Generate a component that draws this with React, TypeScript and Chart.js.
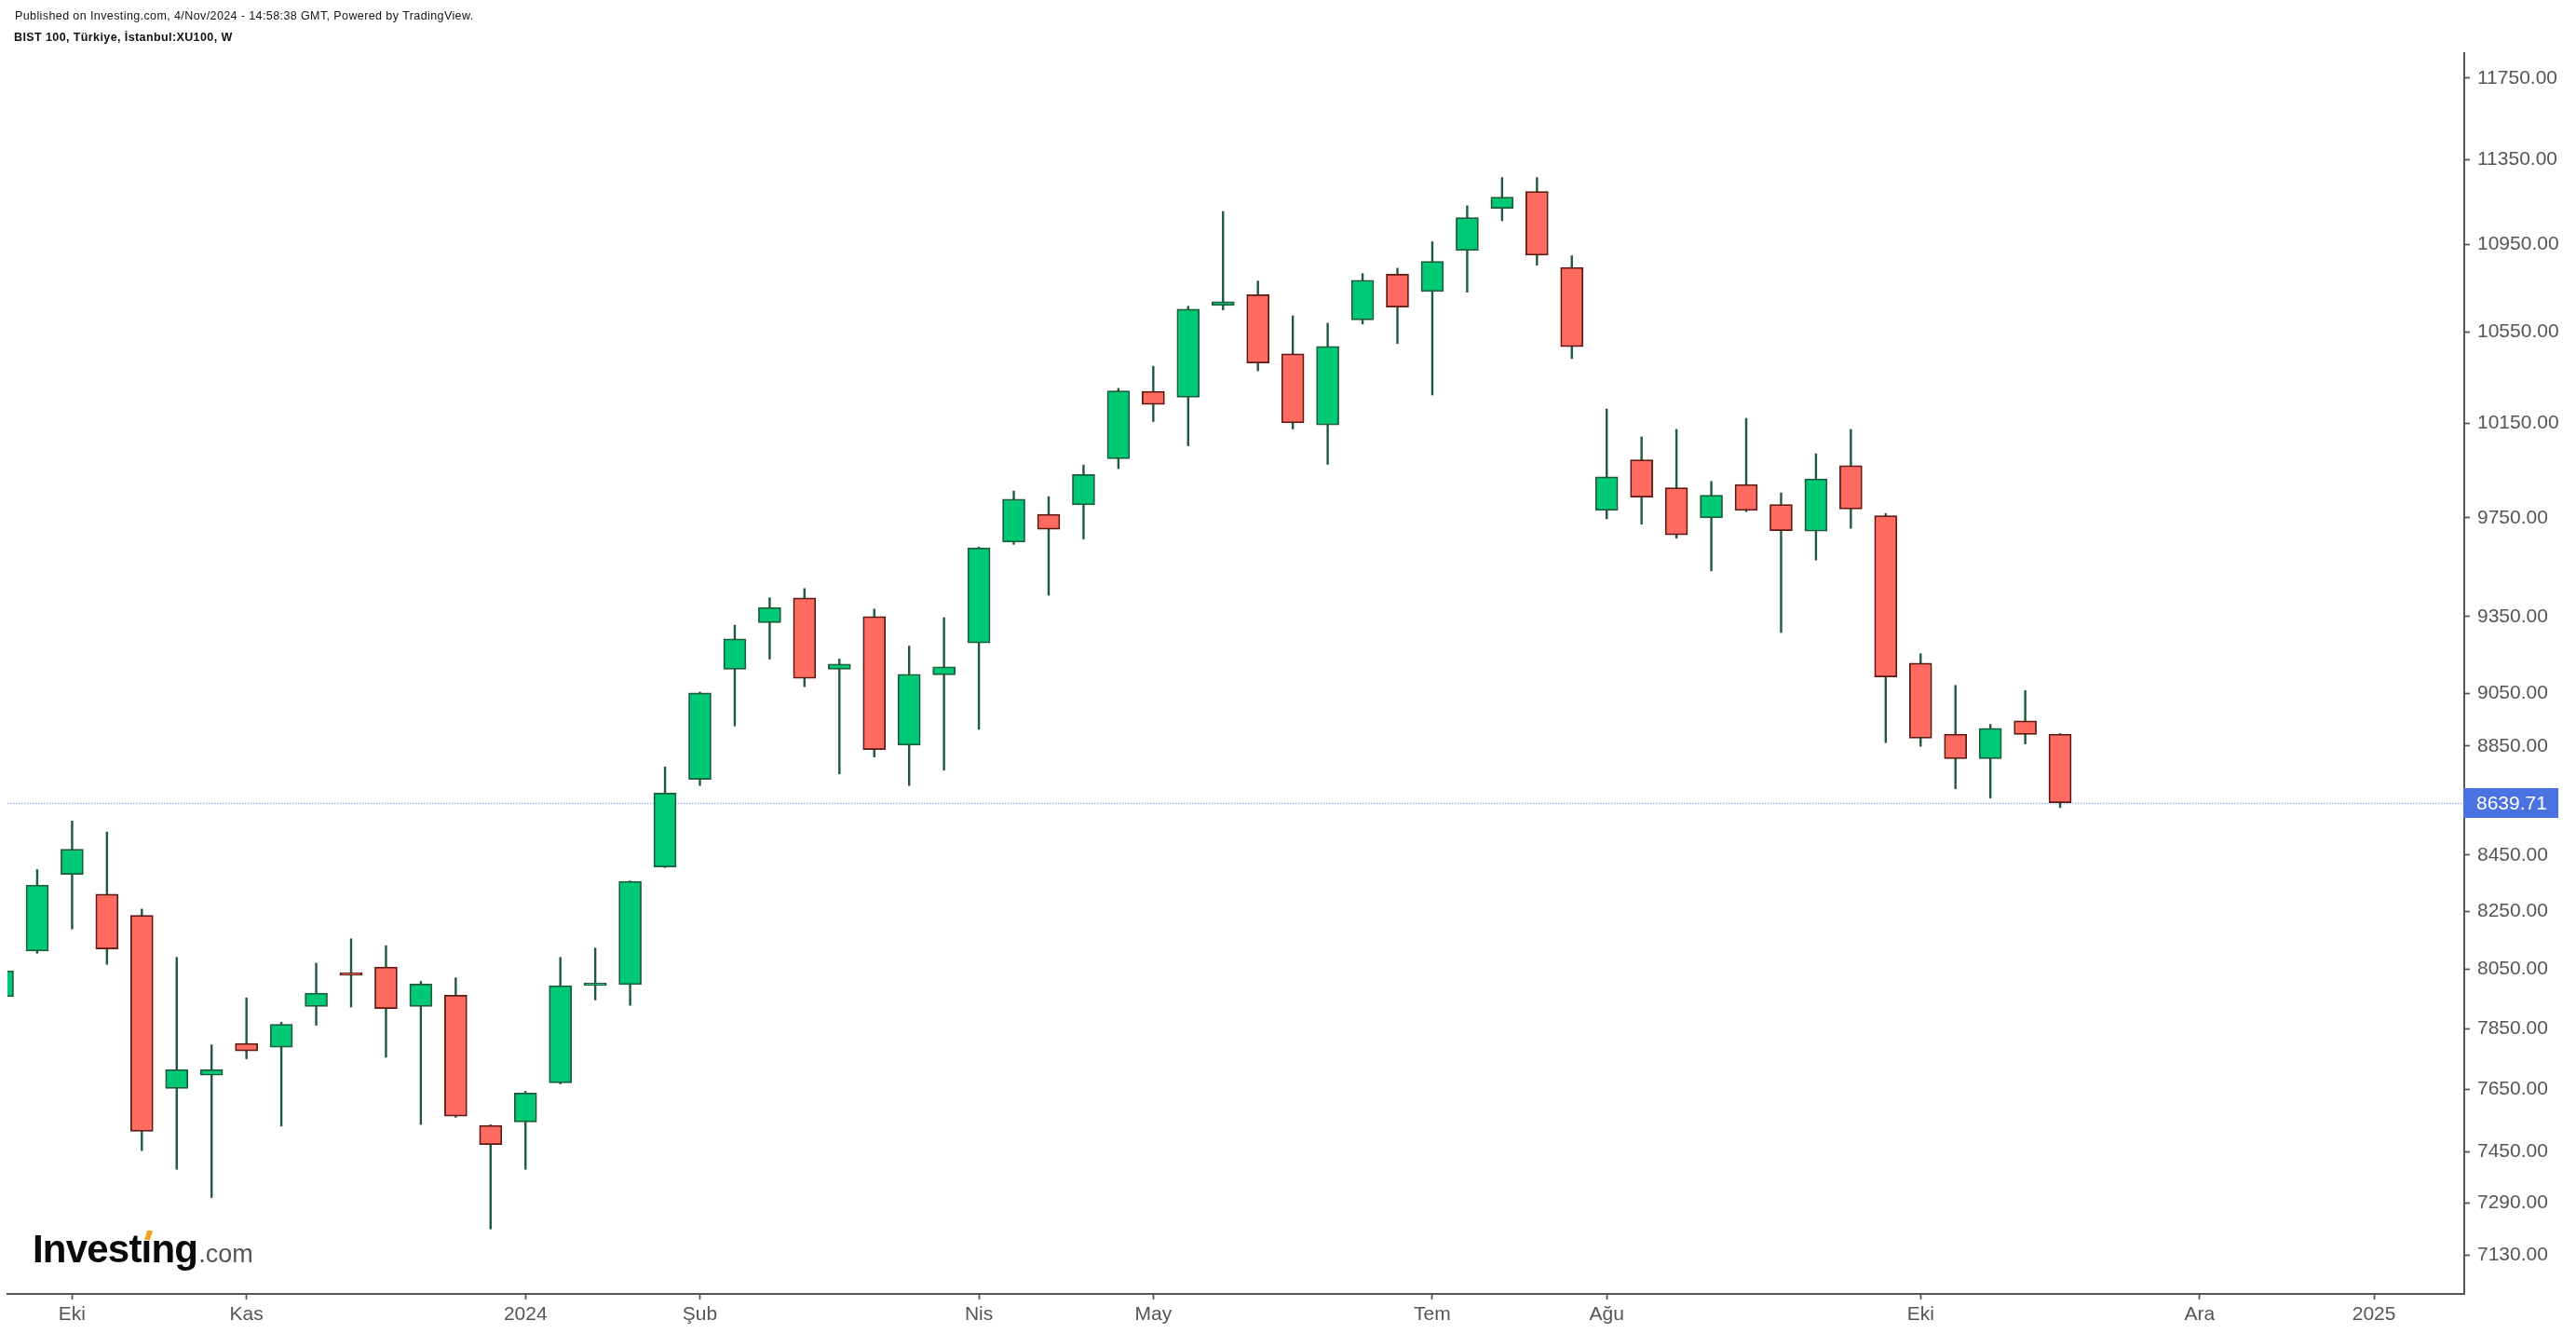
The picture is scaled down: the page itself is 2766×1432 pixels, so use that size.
import React, { useEffect, useRef } from "react";
import { Chart, registerables } from "chart.js";

Chart.register(...registerables);

// Weekly bars (week start dates) – BIST 100, weekly
const weekStarts = [
  "2023-09-18", "2023-09-25", "2023-10-02", "2023-10-09", "2023-10-16", "2023-10-23", "2023-10-30",
  "2023-11-06", "2023-11-13", "2023-11-20", "2023-11-27", "2023-12-04", "2023-12-11", "2023-12-18",
  "2023-12-25", "2024-01-01", "2024-01-08", "2024-01-15", "2024-01-22", "2024-01-29", "2024-02-05",
  "2024-02-12", "2024-02-19", "2024-02-26", "2024-03-04", "2024-03-11", "2024-03-18", "2024-03-25",
  "2024-04-01", "2024-04-08", "2024-04-15", "2024-04-22", "2024-04-29", "2024-05-06", "2024-05-13",
  "2024-05-20", "2024-05-27", "2024-06-03", "2024-06-10", "2024-06-17", "2024-06-24", "2024-07-01",
  "2024-07-08", "2024-07-15", "2024-07-22", "2024-07-29", "2024-08-05", "2024-08-12", "2024-08-19",
  "2024-08-26", "2024-09-02", "2024-09-09", "2024-09-16", "2024-09-23", "2024-09-30", "2024-10-07",
  "2024-10-14", "2024-10-21", "2024-10-28", "2024-11-04",
];

const opens = [
  7957, 8113, 8381, 8311, 8237, 7653, 7696, 7801, 7788, 7924,
  8038, 8058, 7924, 7962, 7534, 7545, 7671, 7995, 7998, 8407,
  8726, 9143, 9326, 9424, 9143, 9350, 8853, 9122, 9246, 9650,
  9765, 9804, 9998, 10288, 10262, 10670, 10719, 10453, 10142, 10605,
  10812, 10733, 10921, 11119, 11199, 10843, 9781, 9993, 9875, 9750,
  9889, 9805, 9695, 9969, 9759, 9167, 8895, 8803, 8945, 8895,
];
const highs = [
  8075, 8398, 8573, 8533, 8259, 8091, 7796, 7953, 7871, 8071,
  8155, 8131, 8009, 8021, 7536, 7644, 8091, 8123, 8358, 8772,
  9055, 9316, 9425, 9462, 9183, 9380, 9234, 9346, 9630, 9862,
  9838, 9971, 10301, 10398, 10666, 11104, 10781, 10623, 10590, 10815,
  10840, 10962, 11131, 11265, 11265, 10897, 10211, 10091, 10123, 9902,
  10171, 9854, 10019, 10123, 9768, 9204, 9081, 8932, 9061, 8897,
];
const lows = [
  7930, 8105, 8189, 8067, 7454, 7395, 7307, 7750, 7532, 7861,
  7922, 7755, 7537, 7560, 7210, 7395, 7668, 7946, 7928, 8405,
  8703, 8926, 9183, 9076, 8746, 8809, 8703, 8760, 8913, 9641,
  9435, 9663, 9956, 10157, 10053, 10650, 10378, 10125, 9974, 10586,
  10499, 10272, 10730, 11060, 10854, 10432, 9746, 9724, 9666, 9533,
  9776, 9287, 9577, 9707, 8863, 8849, 8691, 8657, 8858, 8622,
];
const closes = [
  8045, 8343, 8471, 8120, 7515, 7715, 7715, 7776, 7864, 7969,
  8030, 7917, 8000, 7564, 7473, 7638, 7994, 8003, 8356, 8675,
  9052, 9262, 9386, 9108, 9164, 8837, 9124, 9153, 9627, 9828,
  9703, 9931, 10290, 10231, 10653, 10687, 10412, 10151, 10486, 10785,
  10662, 10871, 11075, 11172, 10900, 10485, 9921, 9836, 9680, 9844,
  9781, 9697, 9913, 9787, 9114, 8880, 8803, 8917, 8894, 8639.71,
];

const xTickIndex = [2, 7, 15, 20, 28, 33, 41, 46, 55, 63, 68];
const xTickLabels = ["Eki", "Kas", "2024", "Şub", "Nis", "May", "Tem", "Ağu", "Eki", "Ara", "2025"];
const yTicks = [11750, 11350, 10950, 10550, 10150, 9750, 9350, 9050, 8850, 8450, 8250, 8050, 7850, 7650, 7450, 7290, 7130];
const lastPrice = 8639.71;

const headerLine1 = "Published on Investing.com, 4/Nov/2024 - 14:58:38 GMT, Powered by TradingView.";
const headerLine2 = "BIST 100, Türkiye, İstanbul:XU100, W";

const UP_FILL = "#00c975";
const UP_BORDER = "#1e5a3b";
const DOWN_FILL = "#ff6a61";
const DOWN_BORDER = "#5c1a14";
const WICK = "#1e5a3b";
const AXIS = "#555555";
const FONT = '"Liberation Sans", Arial, Helvetica, sans-serif';

const overlayPlugin = {
  id: "overlay",
  beforeDatasetsDraw(chart: any) {
    const { ctx, chartArea, scales } = chart;
    const y = Math.round(scales.y.getPixelForValue(lastPrice)) + 0.5;
    ctx.save();
    ctx.strokeStyle = "rgba(80,115,230,0.55)";
    ctx.lineWidth = 1.5;
    ctx.setLineDash([1.5, 1.5]);
    ctx.beginPath();
    ctx.moveTo(chartArea.left, y);
    ctx.lineTo(chartArea.right, y);
    ctx.stroke();
    ctx.restore();
  },
  afterDraw(chart: any) {
    const { ctx, chartArea, scales } = chart;
    const y = scales.y.getPixelForValue(lastPrice);
    ctx.save();
    // price label
    ctx.fillStyle = "#4a72e2";
    ctx.fillRect(chartArea.right - 1, Math.round(y) - 16, 102, 32);
    ctx.fillStyle = "#ffffff";
    ctx.font = `21px ${FONT}`;
    ctx.textBaseline = "middle";
    ctx.textAlign = "left";
    ctx.fillText(lastPrice.toFixed(2), 2659, Math.round(y) + 1);

    // header
    ctx.fillStyle = "#111111";
    ctx.textBaseline = "alphabetic";
    (ctx as any).letterSpacing = "0.4px";
    ctx.font = `12.5px ${FONT}`;
    ctx.fillText(headerLine1, 16, 21);
    ctx.font = `bold 12.5px ${FONT}`;
    ctx.fillText(headerLine2, 15, 44);

    // logo
    const lx = 35;
    const ly = 1355;
    ctx.font = `bold 42px ${FONT}`;
    (ctx as any).letterSpacing = "-0.8px";
    ctx.fillStyle = "#0a0a0a";
    const word = "Investıng";
    ctx.fillText(word, lx, ly);
    const wInvest = ctx.measureText("Invest").width;
    const wDotless = ctx.measureText("ı").width;
    const wWord = ctx.measureText(word).width;
    // orange dot
    const dx = lx + wInvest + wDotless / 2 + 1;
    ctx.fillStyle = "#f5a31a";
    ctx.beginPath();
    ctx.moveTo(dx - 3, 1331);
    ctx.lineTo(dx + 3, 1331);
    ctx.lineTo(dx + 6, 1321);
    ctx.lineTo(dx, 1321);
    ctx.closePath();
    ctx.fill();
    (ctx as any).letterSpacing = "0px";
    ctx.font = `27px ${FONT}`;
    ctx.fillStyle = "#555555";
    ctx.fillText(".com", lx + wWord + 1, ly);
    ctx.restore();
  },
};

export default function App() {
  const canvasRef = useRef<HTMLCanvasElement | null>(null);

  useEffect(() => {
    const canvas = canvasRef.current;
    if (!canvas) return;
    Chart.defaults.font.family = FONT;

    const idx = weekStarts.map((_, i) => i);
    const bodyData = idx.map((i) => ({ x: i, y: [opens[i], closes[i]] }));
    const wickData = idx.map((i) => ({ x: i, y: [lows[i], highs[i]] }));
    const isUp = idx.map((i) => closes[i] >= opens[i]);

    const chart = new Chart(canvas, {
      type: "bar",
      data: {
        datasets: [
          {
            label: "body",
            data: bodyData as any,
            backgroundColor: isUp.map((u) => (u ? UP_FILL : DOWN_FILL)),
            borderColor: isUp.map((u) => (u ? UP_BORDER : DOWN_BORDER)),
            borderWidth: 1.75,
            borderSkipped: false,
            barThickness: 24,
            grouped: false,
            order: 0,
          } as any,
          {
            label: "wick",
            data: wickData as any,
            backgroundColor: WICK,
            borderWidth: 0,
            barThickness: 1.75,
            grouped: false,
            order: 1,
          } as any,
        ],
      },
      options: {
        animation: false,
        responsive: false,
        maintainAspectRatio: false,
        layout: { padding: { left: 8, top: 57, right: 0, bottom: 0 } },
        plugins: { legend: { display: false }, tooltip: { enabled: false } },
        scales: {
          x: {
            type: "linear",
            position: "bottom",
            min: 0.147,
            max: 70.587,
            offset: false,
            grid: {
              drawOnChartArea: false,
              drawTicks: true,
              tickLength: 6,
              tickColor: AXIS,
              tickWidth: 1.75,
              offset: false,
            },
            border: { display: true, color: AXIS, width: 2 },
            ticks: {
              autoSkip: false,
              maxRotation: 0,
              minRotation: 0,
              padding: 4,
              color: AXIS,
              font: { size: 21, family: FONT },
              callback: (_v: any, i: number) => xTickLabels[i],
            },
            afterBuildTicks: (scale: any) => {
              scale.ticks = xTickIndex.map((v) => ({ value: v }));
            },
            afterFit: (scale: any) => {
              scale.height = 43;
            },
          },
          y: {
            type: "logarithmic",
            position: "right",
            min: 7014,
            max: 11876,
            grid: {
              drawOnChartArea: false,
              drawTicks: true,
              tickLength: 6,
              tickColor: AXIS,
              tickWidth: 1.75,
            },
            border: { display: true, color: AXIS, width: 2 },
            ticks: {
              autoSkip: false,
              padding: 8,
              color: AXIS,
              font: { size: 21, family: FONT },
              callback: (v: any) => Number(v).toFixed(2),
            },
            afterBuildTicks: (scale: any) => {
              scale.ticks = yTicks.map((v) => ({ value: v }));
            },
            afterFit: (scale: any) => {
              scale.width = 120;
            },
          },
        },
      } as any,
      plugins: [overlayPlugin],
    });

    return () => {
      chart.destroy();
    };
  }, []);

  return (
    <div
      style={{
        position: "fixed",
        left: 0,
        top: 0,
        width: 2766,
        height: 1432,
        background: "#ffffff",
        overflow: "hidden",
      }}
    >
      <canvas ref={canvasRef} width={2766} height={1432} style={{ display: "block", width: 2766, height: 1432 }} />
    </div>
  );
}
